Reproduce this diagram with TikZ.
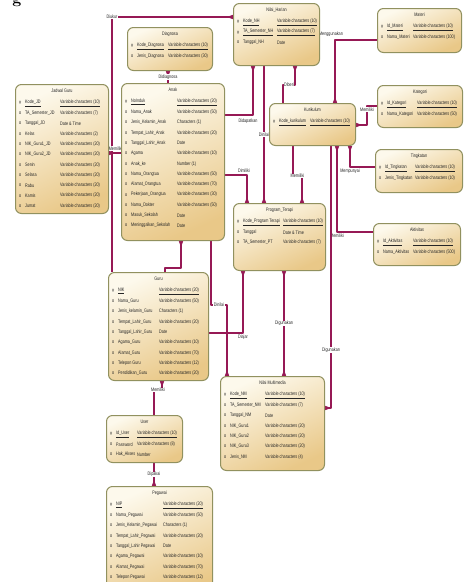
\documentclass[tikz,border=0pt]{standalone}
\usepackage{fontspec}
\newfontfamily\sempit[FakeStretch=0.75]{Liberation Sans}
\usetikzlibrary{arrows.meta,backgrounds}

\definecolor{krem1}{RGB}{253,249,236}
\definecolor{krem2}{RGB}{233,200,136}
\definecolor{zaitun}{RGB}{145,145,95}
\definecolor{merahungu}{RGB}{150,25,85}

\tikzset{
  kotak/.style={draw=zaitun, line width=1pt, rounded corners=6pt, top color=krem1,
    bottom color=krem2, shading angle=25, inner sep=0pt},
  teks/.style={font=\sempit\fontsize{5}{6}\selectfont, text=black!85, inner sep=0pt, anchor=west},
  relasi/.style={draw=merahungu, line width=1.4pt, line join=round},
  ket/.style={teks, anchor=center, fill=white, inner sep=0.6pt},
  cakar/.tip={Triangle[reversed, width=4pt, length=6.5pt]}
}

% una entidad: nombre, x, y, ancho, alto, titulo, columna del tipo, filas
\def\tandapk{p}
\newcommand{\entitas}[8]{%
  \node[kotak, minimum width=#4pt, minimum height=#5pt, anchor=north west] (#1) at (#2,#3) {};
  \node[teks, anchor=center] (#1-judul) at ([yshift=-7pt]#1.north) {#6};
  \foreach \jenis/\nama/\tipe [count=\i] in {#8} {
    \pgfmathsetmacro{\yy}{8.7+10.3*\i}
    \ifx\jenis\tandapk
      \node[teks] (#1-m\i) at ([shift={(4,\yy)}]#1.north west) {\#};
      \node[teks] (#1-n\i) at ([shift={(10,\yy)}]#1.north west) {\underline{\nama}};
      \node[teks] (#1-t\i) at ([shift={(#7,\yy)}]#1.north west) {\underline{\tipe}};
    \else
      \node[teks] (#1-m\i) at ([shift={(4,\yy)}]#1.north west) {o};
      \node[teks] (#1-n\i) at ([shift={(10,\yy)}]#1.north west) {\nama};
      \node[teks] (#1-t\i) at ([shift={(#7,\yy)}]#1.north west) {\tipe};
    \fi
  }%
}

\begin{document}
\begin{tikzpicture}[x=1pt, y=-1pt]
  \useasboundingbox (0,0) rectangle (468,582);
  % el trozo de letra en la esquina
  \node[font=\fontsize{16}{16}\selectfont\bfseries, anchor=base, inner sep=0pt] (potongan) at (17,3) {g};
  % las entidades de arriba
  \entitas{Diagnosa}{127}{27}{85}{43}{Diagnosa}{41}{p/Kode\_Diagnosa/Variable characters (10),o/Jenis\_Diagnosa/Variable characters (30)}
  \entitas{NilaiHarian}{233}{3}{86}{62}{Nilai\_Harian}{44}{p/Kode\_NH/Variable characters (10),p/TA\_Semester\_NH/Variable characters (7),o/Tanggal\_NH/Date}
  \entitas{Materi}{377}{8}{84}{44}{Materi}{36}{p/Id\_Materi/Variable characters (10),o/Nama\_Materi/Variable characters (100)}
  \entitas{Kategori}{377}{85}{85}{42}{Kategori}{40}{p/Id\_Kategori/Variable characters (10),o/Nama\_Kategori/Variable characters (50)}
  \entitas{Kurikulum}{269}{103}{86}{42}{Kurikulum}{41}{p/Kode\_kurikulum/Variable characters (10)}
  \entitas{Tingkatan}{375}{149}{87}{43}{Tingkatan}{40}{p/Id\_Tingkatan/Variable characters (10),o/Jenis\_Tingkatan/Variable characters (10)}
  \entitas{Aktivitas}{373}{223}{87}{42}{Aktivitas}{40}{p/Id\_Aktivitas/Variable characters (10),o/Nama\_Aktivitas/Variable characters (500)}
  \entitas{ProgramTerapi}{233}{203}{92}{67}{Program\_Terapi}{50}{p/Kode\_Program Terapi/Variable characters (10),o/Tanggal/Date \& Time,o/TA\_Semester\_PT/Variable characters (7)}
  % las entidades grandes de la izquierda
  \entitas{JadwalGuru}{15}{84}{93}{129}{Jadwal Guru}{45}{p/Kode\_JD/Variable characters (10),o/TA\_Semester\_JD/Variable characters (7),o/Tanggal\_JD/Date \& Time,o/Kelas/Variable characters (2),o/NIK\_Guru1\_JD/Variable characters (20),o/NIK\_Guru2\_JD/Variable characters (20),o/Senin/Variable characters (20),o/Selasa/Variable characters (20),o/Rabu/Variable characters (20),o/Kamis/Variable characters (20),o/Jumat/Variable characters (20)}
  \entitas{Anak}{121}{83}{103}{157}{Anak}{56}{p/NoInduk/Variable characters (20),o/Nama\_Anak/Variable characters (50),o/Jenis\_Kelamin\_Anak/Characters (1),o/Tempat\_Lahir\_Anak/Variable characters (20),o/Tanggal\_Lahir\_Anak/Date,o/Agama/Variable characters (10),o/Anak\_ke/Number (1),o/Nama\_Orangtua/Variable characters (50),o/Alamat\_Orangtua/Variable characters (70),o/Pekerjaan\_Orangtua/Variable characters (30),o/Nama\_Dokter/Variable characters (50),o/Masuk\_Sekolah/Date,o/Meninggalkan\_Sekolah/Date}
  \entitas{Guru}{108}{272}{100}{108}{Guru}{51}{p/NIK/Variable characters (20),o/Nama\_Guru/Variable characters (50),o/Jenis\_kelamin\_Guru/Characters (1),o/Tempat\_Lahir\_Guru/Variable characters (20),o/Tanggal\_Lahir\_Guru/Date,o/Agama\_Guru/Variable characters (10),o/Alamat\_Guru/Variable characters (70),o/Telepon Guru/Variable characters (12),o/Pendidikan\_Guru/Variable characters (20)}
  % las de abajo
  \entitas{NilaiMultimedia}{220}{376}{104}{94}{Nilai Multimedia}{45}{p/Kode\_NM/Variable characters (10),o/TA\_Semester\_NM/Variable characters (7),o/Tanggal\_NM/Date,o/NIK\_Guru1/Variable characters (20),o/NIK\_Guru2/Variable characters (20),o/NIK\_Guru3/Variable characters (20),o/Jenis\_NM/Variable characters (4)}
  \entitas{User}{106}{415}{76}{47}{User}{31}{p/Id\_User/Variable characters (10),o/Password/Variable characters (8),o/Hak\_Akses/Number}
  \entitas{Pegawai}{106}{486}{106}{110}{Pegawai}{57}{p/NIP/Variable characters (20),o/Nama\_Pegawai/Variable characters (50),o/Jenis\_Kelamin\_Pegawai/Characters (1),o/Tempat\_Lahir\_Pegawai/Variable characters (20),o/Tanggal\_Lahir Pegawai/Date,o/Agama\_Pegawai/Variable characters (10),o/Alamat\_Pegawai/Variable characters (70),o/Telepon Pegawai/Variable characters (12)}
  % las relaciones, por debajo de las cajas
  \begin{pgfonlayer}{background}
    \fill[white] (0,0) rectangle (468,582);
    \draw[relasi, -{cakar}] ([xshift=4pt]Guru.north west) |- node[ket, pos=0.5] (lDiukur) {Diukur}
      ([yshift=-14pt]NilaiHarian.north west);
    \draw[relasi, {cakar}-] ([xshift=41pt]Diagnosa.south west) -- node[ket] (lDidiagnosa) {Didiagnosa}
      ([xshift=47pt]Anak.north west);
    \draw[relasi, -{cakar}] ([yshift=-70pt]Anak.north west) -- node[ket, pos=0.45, above=1pt] (lMengikuti) {Memiliki}
      ([yshift=-69pt]JadwalGuru.north east);
    \draw[relasi, {cakar}-] ([xshift=20pt]NilaiHarian.south west) |- node[ket, pos=0.5, anchor=north, xshift=-5pt, yshift=-3pt] (lDidapatkan) {Didapatkan}
      ([yshift=-32pt]Anak.north east);
    \draw[relasi, -{cakar}] ([xshift=31pt]NilaiHarian.south west) -- node[ket] (lDinilaiPT) {Dinilai}
      ([xshift=31pt]ProgramTerapi.north west);
    \draw[relasi, {cakar}-] ([xshift=62pt]NilaiHarian.south west) -- ++(0,19) -| node[ket, pos=0.25] (lDiberi) {Diberi}
      ([xshift=14pt]Kurikulum.north west);
    \draw[relasi, -{cakar}] ([yshift=-32pt]Materi.north west) -| node[ket, pos=0.5, above=2pt, xshift=-4pt] (lMenggunakan) {Menggunakan}
      ([xshift=66pt]Kurikulum.north west);
    \draw[relasi, -{cakar}] ([yshift=-21pt]Kategori.north west) -- ++(-10,0) node[ket, below=0.5pt] (lMemilikiKat) {Memiliki}
      |- ([yshift=-22pt]Kurikulum.north east);
    \draw[relasi, -{cakar}] ([yshift=-18pt]Tingkatan.north west) -| node[ket, pos=0.5, below=1pt] (lMempunyai) {Mempunyai}
      ([xshift=81pt]Kurikulum.south west);
    \draw[relasi, -{cakar}] ([yshift=-9pt]Aktivitas.north west) -| node[ket, pos=0.5, below=1pt] (lMemilikiAkt) {Memiliki}
      ([xshift=68pt]Kurikulum.south west);
    \draw[relasi, -{cakar}] ([xshift=62pt]Kurikulum.south west) |- node[ket, pos=0.39] (lDigunakanNM) {Digunakan}
      ([yshift=-32pt]NilaiMultimedia.north east);
    \draw[relasi, -{cakar}] ([yshift=-92pt]Anak.north east) -| node[ket, pos=0.5, above=1pt, xshift=-3pt] (lDimiliki) {Dimiliki}
      ([xshift=14pt]ProgramTerapi.north west);
    \draw[relasi, -{cakar}] ([xshift=24pt]Kurikulum.south west) -- ++(0,30) -| node[ket, pos=0.25] (lMemilikiPT) {Memiliki}
      ([xshift=69pt]ProgramTerapi.north west);
    \draw[relasi, {cakar}-] ([xshift=10pt]ProgramTerapi.south west) |- node[ket, pos=0.5, below=1pt] (lDiajar) {Diajar}
      ([yshift=-61pt]Guru.north east);
    \draw[relasi, {cakar}-{cakar}] ([xshift=51pt]ProgramTerapi.south west) -- node[ket] (lDigunakanPT) {Digunakan}
      ([xshift=64pt]NilaiMultimedia.north west);
    \draw[relasi, {cakar}-] ([xshift=60pt]Anak.south west) -- ++(0,27) -| ([xshift=57pt]Guru.north west);
    \draw[relasi, -{cakar}] ([xshift=90pt]Anak.south west) -- ++(0,64) -| node[ket, pos=0.25] (lDinilaiNM) {Dinilai}
      ([xshift=7pt]NilaiMultimedia.north west);
    \draw[relasi, {cakar}-] ([xshift=54pt]Guru.south west) -- ++(0,9) -| node[ket, pos=0.25] (lMemilikiUser) {Memiliki}
      ([xshift=48pt]User.north west);
    \draw[relasi, -{cakar}] ([xshift=48pt]User.south west) -- node[ket] (lDipakai) {Dipakai}
      ([xshift=48pt]Pegawai.north west);
  \end{pgfonlayer}
\end{tikzpicture}
\end{document}
